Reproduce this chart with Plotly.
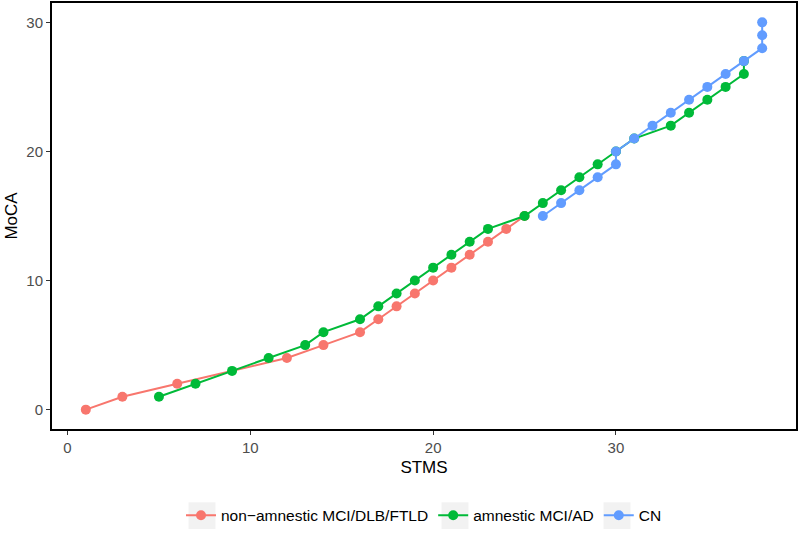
import plotly.graph_objects as go

# STMS vs MoCA equivalence curves per diagnostic group
groups = ["non\u2212amnestic MCI/DLB/FTLD", "amnestic MCI/AD", "CN"]
colors = ["#F8766D", "#00BA38", "#619CFF"]

nonamn_stms = [1, 3, 6, 12, 14, 16, 17, 18, 19, 20, 21, 22, 23, 24, 25]
nonamn_moca = [0, 1, 2, 4, 5, 6, 7, 8, 9, 10, 11, 12, 13, 14, 15]

amn_stms = [5, 7, 9, 11, 13, 14, 16, 17, 18, 19, 20, 21, 22, 23, 25, 26, 27, 28,
            29, 30, 31, 33, 34, 35, 36, 37, 37]
amn_moca = [1, 2, 3, 4, 5, 6, 7, 8, 9, 10, 11, 12, 13, 14, 15, 16, 17, 18,
            19, 20, 21, 22, 23, 24, 25, 26, 27]

cn_stms = [26, 27, 28, 29, 30, 30, 31, 32, 33, 34, 35, 36, 37, 38, 38, 38]
cn_moca = [15, 16, 17, 18, 19, 20, 21, 22, 23, 24, 25, 26, 27, 28, 29, 30]

series = [(nonamn_stms, nonamn_moca), (amn_stms, amn_moca), (cn_stms, cn_moca)]

W, H = 800, 536
ML, MR, MT, MB = 52, 4, 3, 103
PW, PH = W - ML - MR, H - MT - MB

fig = go.Figure()
for name, color, (xs, ys) in zip(groups, colors, series):
    fig.add_trace(go.Scatter(
        x=xs, y=ys, name=name, mode="lines+markers",
        line=dict(color=color, width=2),
        marker=dict(color=color, size=10),
    ))

# grey95 backgrounds behind the legend keys (ggplot style), centres in px
for cx in [202, 455, 617]:
    fig.add_shape(
        type="rect", xref="paper", yref="paper", layer="above",
        x0=(cx - 13.5 - ML) / PW, x1=(cx + 13.5 - ML) / PW,
        y0=(MT + PH - 534) / PH, y1=(MT + PH - 507) / PH,
        fillcolor="#F2F2F2", line=dict(width=0),
    )

axis_style = dict(
    showgrid=False, zeroline=False, automargin=False,
    showline=True, linecolor="black", linewidth=2, mirror=True,
    ticks="outside", ticklen=4, tickcolor="#333333",
    tickfont=dict(size=15, color="#4D4D4D"),
    title_font=dict(size=17, color="black"),
)

fig.update_layout(
    width=W, height=H,
    margin=dict(l=ML, r=MR, t=MT, b=MB),
    plot_bgcolor="white", paper_bgcolor="white",
    font=dict(family="Liberation Sans, Arial, sans-serif"),
    xaxis=dict(title=dict(text="STMS", standoff=6), range=[-0.85, 39.85],
               tickvals=[0, 10, 20, 30], **axis_style),
    yaxis=dict(title=dict(text="MoCA", standoff=4), range=[-1.5, 31.5],
               tickvals=[0, 10, 20, 30], **axis_style),
    legend=dict(orientation="h", x=0.5, xanchor="center",
                y=(MT + PH - 520.5) / PH, yanchor="middle",
                bgcolor="rgba(0,0,0,0)",
                font=dict(size=15.5, color="black"), itemwidth=30),
)

# page has a default body margin; drop it so the figure sits at the window corner
fig.write_html("out.html", config={"displayModeBar": False},
               post_script="document.body.style.margin='0';")
